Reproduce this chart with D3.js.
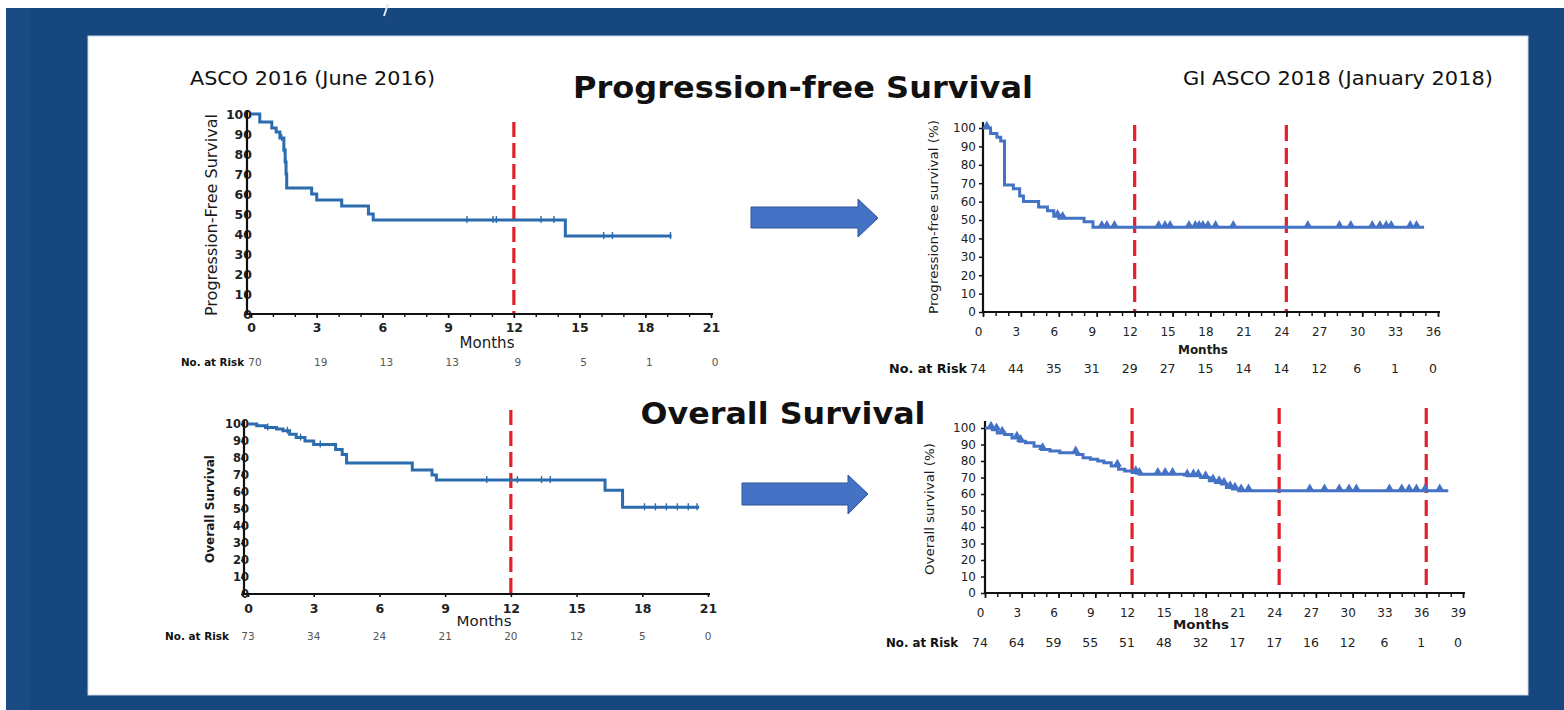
<!DOCTYPE html>
<html><head><meta charset="utf-8">
<script src="https://cdn.jsdelivr.net/npm/d3@7"></script>
<style>html,body{margin:0;padding:0;background:#fff;} svg{display:block}</style>
</head><body>
<svg id="c" width="1564" height="710"></svg>
<script>
// ---------------- data ----------------
const pfs2016Times = [0,0.4,0.95,1.15,1.32,1.5,1.56,1.6,1.63,2.77,3.0,4.14,5.36,5.58,14.35];
const pfs2016Surv  = [100,96,93,91,88,82,76,70,63,60,57,54,50,47,39];
const pfs2016End = 19.2;
const pfs2016Censor = [1.4,1.52,1.58,9.86,11.05,11.2,13.24,13.83,16.1,16.5,19.15];
const pfs2016Ticks = [0,3,6,9,12,15,18,21];
const pfs2016AtRisk = ["70","19","13","13","9","5","1","0"];
const pfs2016Landmarks = [12];

const os2016Times = [0,0.4,0.8,1.3,1.6,1.9,2.2,2.6,3.0,4.0,4.3,4.5,7.5,8.4,8.6,16.3,17.1];
const os2016Surv  = [100,99,98,97,96,94,92,90,88,85,82,77,73,70,67,61,51];
const os2016End = 20.6;
const os2016Censor = [0.9,1.8,2.4,3.3,10.9,12.3,13.4,13.8,18.1,18.6,19.1,19.6,20.1,20.5];
const os2016Ticks = [0,3,6,9,12,15,18,21];
const os2016AtRisk = ["73","34","24","21","20","12","5","0"];
const os2016Landmarks = [12];

const pfs2018Times = [0,0.6,1.1,1.4,1.7,2.4,2.9,3.2,4.4,5.1,5.6,6.0,8.0,8.7];
const pfs2018Surv  = [100,97,95,93,69,67,63,60,57,55,52,51,49,46];
const pfs2018End = 34.9;
const pfs2018Censor = [0.3,5.9,6.3,9.4,9.8,10.4,13.9,14.4,14.8,16.3,16.8,17.1,17.4,17.8,18.4,19.8,25.7,28.2,29.1,30.8,31.4,31.9,32.3,33.8,34.3];
const pfs2018Ticks = [0,3,6,9,12,15,18,21,24,27,30,33,36];
const pfs2018AtRisk = ["74","44","35","31","29","27","15","14","14","12","6","1","0"];
const pfs2018Landmarks = [12,24];

const os2018Times = [0,0.6,1.0,1.6,2.2,2.8,3.3,4.0,4.6,5.3,6.1,7.5,8.0,8.6,9.2,9.7,10.3,10.9,11.4,12.0,12.6,16.5,17.6,18.3,18.8,19.3,19.7,20.2,20.7];
const os2018Surv  = [100,99,97,96,94,92,91,89,87,86,85,84,82,81,80,79,77,75,74,73,72,71,70,68,67,66,64,63,62];
const os2018End = 37.8;
const os2018Censor = [0.49,0.94,1.4,2.6,2.9,4.7,7.4,10.8,12.3,12.6,14.1,14.7,15.3,16.5,17,17.4,18,18.6,19.1,19.5,20,20.4,20.9,21.5,26.5,27.7,28.9,29.7,30.3,33,34,34.6,35.2,35.9,37.1];
const os2018Ticks = [0,3,6,9,12,15,18,21,24,27,30,33,36,39];
const os2018AtRisk = ["74","64","59","55","51","48","32","17","17","16","12","6","1","0"];
const os2018Landmarks = [12,24,36];

const yTicks = [0,10,20,30,40,50,60,70,80,90,100];

// ---------------- drawing ----------------
const svg = d3.select("#c");
const FONT = "'DejaVu Sans',sans-serif";

// background frame
svg.append("rect").attr("x",0).attr("y",0).attr("width",1564).attr("height",710).attr("fill","#ffffff");
svg.append("rect").attr("x",6).attr("y",8).attr("width",1558).attr("height",702).attr("fill","#17477f");
svg.append("rect").attr("x",6).attr("y",8).attr("width",24).attr("height",702).attr("fill","#1a4b84");
svg.append("path").attr("d","M388,4 L384,16").attr("stroke","#dfe6ef").attr("stroke-width",2);
svg.append("rect").attr("x",88).attr("y",36).attr("width",1440).attr("height",659)
  .attr("fill","#ffffff").attr("stroke","#c9d5e4").attr("stroke-width",1);

function heading(txt, x, y, size, weight, anchor, len){
  svg.append("text").attr("x",x).attr("y",y).attr("text-anchor",anchor).text(txt)
    .attr("textLength",len).attr("lengthAdjust","spacingAndGlyphs")
    .style("font-family",FONT).style("font-size",size).style("font-weight",weight).attr("fill","#111");
}
heading("ASCO 2016 (June 2016)", 190, 85, "20px", "normal", "start", 245);
heading("GI ASCO 2018 (January 2018)", 1183, 85, "20px", "normal", "start", 310);
heading("Progression-free Survival", 803, 98, "31px", "bold", "middle", 460);
heading("Overall Survival", 783, 424, "31px", "bold", "middle", 285);

// arrows
const arrowFill = "#4472c4", arrowStroke = "#2f5597";
svg.append("path").attr("d","M751,207 L858,207 L858,199 L878,218 L858,237 L858,228 L751,228 Z")
  .attr("fill",arrowFill).attr("stroke",arrowStroke).attr("stroke-width",1);
svg.append("path").attr("d","M742,483 L848,483 L848,475 L868,494 L848,514 L848,505 L742,505 Z")
  .attr("fill",arrowFill).attr("stroke",arrowStroke).attr("stroke-width",1);

function survAt(times, surv, t){
  let v = surv[0];
  for(let i=0;i<times.length;i++){ if(times[i] <= t) v = surv[i]; }
  return v;
}

function panel(c){
  const x = d3.scaleLinear().domain([0,c.xmax]).range([c.x0,c.x1]);
  const y = d3.scaleLinear().domain([0,100]).range([c.y0,c.y1]);
  const g = svg.append("g");
  const old = c.style === "2016";

  // landmark dashed lines
  c.landmarks.forEach(m=>{
    g.append("line").attr("x1",x(m)).attr("x2",x(m)).attr("y1",c.redTop).attr("y2",c.y0)
      .attr("stroke","#e0202b").attr("stroke-width",3.2).attr("stroke-dasharray",c.dash);
  });

  // monthly minor ticks
  g.append("g").attr("transform",`translate(0,${c.y0})`)
    .call(d3.axisBottom(x).tickValues(d3.range(0,c.xmax+1)).tickSize(c.minorTick).tickFormat(""))
    .call(a=>a.select(".domain").remove())
    .selectAll("line").attr("stroke","#111").attr("stroke-width",1.4);
  // major x ticks + labels
  const xa = g.append("g").attr("transform",`translate(0,${c.y0})`)
    .call(d3.axisBottom(x).tickValues(c.ticks).tickSize(c.majorTick));
  xa.select(".domain").remove();
  xa.selectAll("line").attr("stroke","#111").attr("stroke-width",1.6);
  xa.selectAll("text").attr("y",c.xLabelY).attr("dy","0").attr("dx",c.xLabelDx)
    .style("font-family",FONT).style("font-size",c.tickFont).style("font-weight",old?"bold":"normal")
    .attr("fill","#222");

  // y axis ticks + labels
  const ya = g.append("g").attr("transform",`translate(${c.axisX},0)`)
    .call(d3.axisLeft(y).tickValues(yTicks).tickSize(c.yTick).tickPadding(c.yPad));
  ya.select(".domain").remove();
  ya.selectAll("line").attr("stroke","#111").attr("stroke-width",1.5);
  ya.selectAll("text").style("font-family",FONT).style("font-size",c.yTickFont)
    .style("font-weight",old?"bold":"normal").attr("fill","#222");

  // axis lines
  g.append("line").attr("x1",c.axisX).attr("x2",c.axisX).attr("y1",c.yAxisTop).attr("y2",c.y0+1)
    .attr("stroke","#111").attr("stroke-width",2.2);
  g.append("line").attr("x1",c.axisX).attr("x2",x(c.xmax)+2).attr("y1",c.y0).attr("y2",c.y0)
    .attr("stroke","#111").attr("stroke-width",2.2);

  // KM curve
  const pts = c.times.map((t,i)=>[t,c.surv[i]]);
  pts.push([c.end, c.surv[c.surv.length-1]]);
  g.append("path").datum(pts)
    .attr("d", d3.line().x(d=>x(d[0])).y(d=>y(d[1])).curve(d3.curveStepAfter))
    .attr("fill","none").attr("stroke",c.color).attr("stroke-width",c.lw).attr("stroke-linejoin","miter");

  // censor marks
  if(old){
    g.selectAll(null).data(c.censor).enter().append("line")
      .attr("x1",d=>x(d)).attr("x2",d=>x(d))
      .attr("y1",d=>y(survAt(c.times,c.surv,d))-4).attr("y2",d=>y(survAt(c.times,c.surv,d))+3)
      .attr("stroke",c.color).attr("stroke-width",1.4);
  } else {
    g.selectAll(null).data(c.censor).enter().append("path")
      .attr("d", d3.symbol(d3.symbolTriangle, 36))
      .attr("transform",d=>`translate(${x(d)},${y(survAt(c.times,c.surv,d))-2})`)
      .attr("fill",c.color);
  }

  // y label
  g.append("text").attr("transform",`translate(${c.yLabelX},${c.yLabelY}) rotate(-90)`)
    .attr("text-anchor","middle").text(c.yLabel)
    .attr("textLength",c.yLabelLen).attr("lengthAdjust","spacingAndGlyphs")
    .style("font-family",FONT).style("font-size",c.yLabelFont).style("font-weight",c.yLabelWeight)
    .attr("fill","#1a1a1a");
  // Months
  g.append("text").attr("x",c.monthsX).attr("y",c.monthsY).attr("text-anchor","middle").text("Months")
    .attr("textLength",c.monthsLen).attr("lengthAdjust","spacingAndGlyphs")
    .style("font-family",FONT).style("font-size",c.monthsFont).style("font-weight",old?"normal":"bold")
    .attr("fill","#1a1a1a");
  // at risk
  g.append("text").attr("x",c.riskX).attr("y",c.riskY).text("No. at Risk")
    .attr("textLength",c.riskLen).attr("lengthAdjust","spacingAndGlyphs")
    .style("font-family",FONT).style("font-size",c.riskLabelFont).style("font-weight","bold").attr("fill","#111");
  g.selectAll(null).data(c.atRisk).enter().append("text")
    .attr("x",(d,i)=>x(c.ticks[i])+c.riskDx).attr("y",c.riskY).attr("text-anchor","middle")
    .text(d=>d).style("font-family",FONT).style("font-size",c.riskFont)
    .attr("fill",old?"#555":"#222");
}

panel({style:"2016", times:pfs2016Times, surv:pfs2016Surv, end:pfs2016End, censor:pfs2016Censor,
  ticks:pfs2016Ticks, atRisk:pfs2016AtRisk, landmarks:pfs2016Landmarks, xmax:21,
  x0:251, x1:711, y0:314, y1:114, axisX:247, yAxisTop:110, redTop:122, dash:"15,6",
  minorTick:3, majorTick:4, xLabelY:18, xLabelDx:0, tickFont:"12.5px", yTickFont:"12.5px", yTick:3, yPad:-8,
  color:"#2a6cae", lw:3,
  yLabel:"Progression-Free Survival", yLabelX:217, yLabelY:215, yLabelFont:"16px", yLabelWeight:"normal", yLabelLen:202,
  monthsX:487, monthsY:348, monthsFont:"15px", monthsLen:55,
  riskX:181, riskY:366, riskLabelFont:"10.5px", riskLen:63, riskFont:"10.5px", riskDx:4});

panel({style:"2016", times:os2016Times, surv:os2016Surv, end:os2016End, censor:os2016Censor,
  ticks:os2016Ticks, atRisk:os2016AtRisk, landmarks:os2016Landmarks, xmax:21,
  x0:248, x1:708, y0:594, y1:424, axisX:244, yAxisTop:420, redTop:410, dash:"15,6",
  minorTick:0, majorTick:3, xLabelY:19, xLabelDx:0, tickFont:"12.5px", yTickFont:"11.5px", yTick:3, yPad:-8,
  color:"#2a6cae", lw:3,
  yLabel:"Overall Survival", yLabelX:214, yLabelY:509, yLabelFont:"13px", yLabelWeight:"bold", yLabelLen:108,
  monthsX:484, monthsY:626, monthsFont:"14px", monthsLen:55,
  riskX:165, riskY:640, riskLabelFont:"10.5px", riskLen:64, riskFont:"10.5px", riskDx:0});

panel({style:"2018", times:pfs2018Times, surv:pfs2018Surv, end:pfs2018End, censor:pfs2018Censor,
  ticks:pfs2018Ticks, atRisk:pfs2018AtRisk, landmarks:pfs2018Landmarks, xmax:36,
  x0:983, x1:1438, y0:312, y1:128, axisX:983, yAxisTop:122, redTop:125, dash:"16,7",
  minorTick:4, majorTick:5, xLabelY:24, xLabelDx:-5, tickFont:"12px", yTickFont:"12px", yTick:4, yPad:3,
  color:"#4472c4", lw:3,
  yLabel:"Progression-free survival (%)", yLabelX:938, yLabelY:217, yLabelFont:"13px", yLabelWeight:"normal", yLabelLen:194,
  monthsX:1203, monthsY:354, monthsFont:"12.5px", monthsLen:50,
  riskX:889, riskY:373, riskLabelFont:"13px", riskLen:78, riskFont:"12.5px", riskDx:-5});

panel({style:"2018", times:os2018Times, surv:os2018Surv, end:os2018End, censor:os2018Censor,
  ticks:os2018Ticks, atRisk:os2018AtRisk, landmarks:os2018Landmarks, xmax:39,
  x0:985, x1:1463, y0:593, y1:428, axisX:985, yAxisTop:421, redTop:408, dash:"16,7",
  minorTick:4, majorTick:5, xLabelY:24, xLabelDx:-5, tickFont:"12px", yTickFont:"12px", yTick:4, yPad:5,
  color:"#4472c4", lw:3,
  yLabel:"Overall survival (%)", yLabelX:934, yLabelY:509, yLabelFont:"13px", yLabelWeight:"normal", yLabelLen:132,
  monthsX:1201, monthsY:629, monthsFont:"12.5px", monthsLen:56,
  riskX:886, riskY:647, riskLabelFont:"12px", riskLen:72, riskFont:"12.5px", riskDx:-5});
</script>
</body></html>
